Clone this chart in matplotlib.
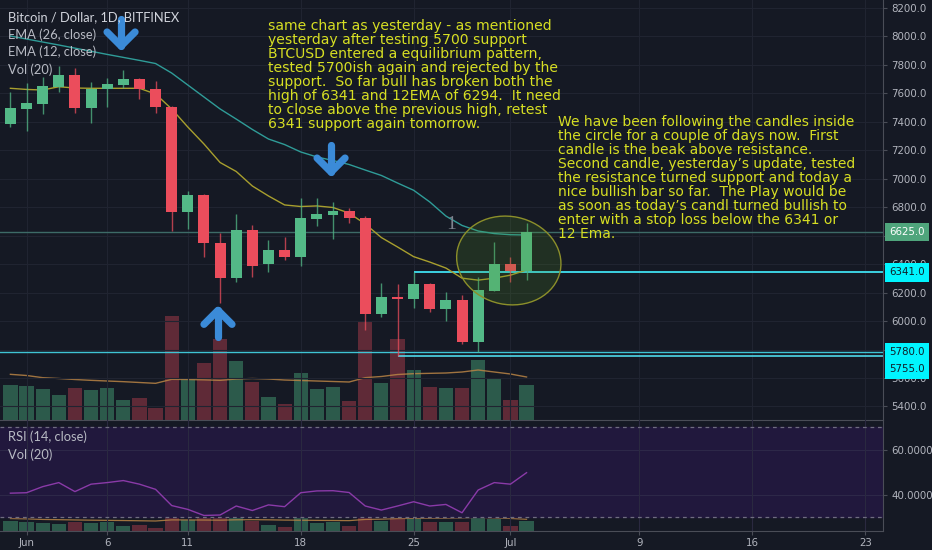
import matplotlib
matplotlib.use('Agg')
import matplotlib.pyplot as plt
import matplotlib.dates as mdates
import matplotlib.transforms as mtrans
from matplotlib.patches import Ellipse
from matplotlib.lines import Line2D
import numpy as np
import pandas as pd

# ---------------- data ----------------
dates = pd.date_range('2018-05-31', periods=33, freq='D')
opens = [7383, 7489, 7524, 7641, 7730, 7494, 7629, 7660, 7699, 7627,
         7501, 6763, 6885, 6550, 6304, 6639, 6398, 6499, 6452, 6718,
         6742, 6773, 6721, 6049, 6171, 6155, 6260, 6082, 6147, 5855,
         6211, 6400, 6353]
highs = [7610, 7673, 7711, 7791, 7774, 7680, 7704, 7763, 7704, 7687,
         7510, 6915, 6890, 6620, 6751, 6674, 6569, 6588, 6862, 6862,
         6834, 6792, 6735, 6269, 6260, 6341, 6265, 6201, 6183, 6311,
         6557, 6452, 6686]
lows = [7360, 7336, 7454, 7610, 7463, 7388, 7505, 7634, 7557, 7463,
        6634, 6644, 6452, 6124, 6276, 6311, 6346, 6428, 6386, 6667,
        6574, 6686, 5937, 6030, 5755, 6089, 6065, 6000, 5838, 5780,
        6211, 6276, 6288]
closes = [7494, 7533, 7650, 7730, 7494, 7629, 7664, 7701, 7627, 7501,
          6763, 6885, 6550, 6304, 6639, 6388, 6499, 6447, 6721, 6751,
          6773, 6721, 6047, 6166, 6157, 6260, 6082, 6147, 5855, 6218,
          6400, 6353, 6625]
volumes = [21000, 20200, 18600, 14800, 19000, 18000, 19000, 11800, 13000, 7400,
           62400, 24400, 34200, 48600, 35200, 22600, 14000, 9800, 28200, 18400,
           19600, 11400, 59400, 22200, 48800, 30000, 19600, 19000, 19000, 35800,
           25400, 11800, 21000]
vol_ma20 = [27400, 26700, 25400, 24900, 24300, 23800, 23400, 23000, 22500, 22000,
            24400, 24300, 24100, 23800, 24600, 24900, 24600, 24000, 23700, 23400,
            23100, 22800, 25400, 26100, 27300, 27800, 28000, 28200, 28800, 30000,
            28800, 27600, 25800]
ema26 = [8001, 7980, 7959, 7938, 7916, 7894, 7872, 7851, 7830, 7808,
         7741, 7657, 7573, 7489, 7418, 7345, 7278, 7239, 7187, 7152,
         7127, 7099, 7060, 7022, 6969, 6918, 6836, 6737, 6671, 6632,
         6614, 6606, 6604]
ema12 = [7634, 7626, 7622, 7645, 7636, 7634, 7634, 7634, 7634, 7594,
         7489, 7362, 7243, 7113, 7050, 6948, 6878, 6815, 6804, 6808,
         6797, 6758, 6681, 6586, 6520, 6452, 6414, 6372, 6301, 6287,
         6301, 6322, 6358]
rsi14 = [40.8, 41.0, 43.7, 45.5, 41.5, 44.8, 45.5, 46.4, 44.8, 42.5,
         35.3, 33.6, 30.9, 31.1, 35.1, 33.1, 35.6, 34.8, 41.0, 41.8,
         41.9, 41.1, 35.1, 33.3, 35.1, 37.0, 35.1, 35.8, 32.1, 42.2,
         45.5, 44.8, 49.9]

price_ticks = [5400, 5600, 5800, 6000, 6200, 6400, 6600, 6800, 7000,
               7200, 7400, 7600, 7800, 8000, 8200]
hidden_ticks = [5800, 6600]          # covered by the price-label boxes
rsi_ticks = [40, 60]
x_tick_dates = ['2018-06-01', '2018-06-06', '2018-06-11', '2018-06-18',
                '2018-06-25', '2018-07-01', '2018-07-09', '2018-07-16',
                '2018-07-23']
x_tick_labels = ['Jun', '6', '11', '18', '25', 'Jul', '9', '16', '23']

last_price = 6625
level_6341 = 6341
level_5780 = 5780
level_5755 = 5755

title_lines = ['Bitcoin / Dollar, 1D, BITFINEX', 'EMA (26, close)',
               'EMA (12, close)', 'Vol (20)']
rsi_lines = ['RSI (14, close)', 'Vol (20)']

note1 = ("same chart as yesterday - as mentioned\n"
         "yesterday after testing 5700 support\n"
         "BTCUSD entered a equilibrium pattern,\n"
         "tested 5700ish again and rejected by the\n"
         "support.  So far bull has broken both the\n"
         "high of 6341 and 12EMA of 6294.  It need\n"
         "to close above the previous high, retest\n"
         "6341 support again tomorrow.")
note2 = ("We have been following the candles inside\n"
         "the circle for a couple of days now.  First\n"
         "candle is the beak above resistance.\n"
         "Second candle, yesterday\u2019s update, tested\n"
         "the resistance turned support and today a\n"
         "nice bullish bar so far.  The Play would be\n"
         "as soon as today\u2019s candl turned bullish to\n"
         "enter with a stop loss below the 6341 or\n"
         "12 Ema.")

# ---------------- style ----------------
BG = '#151924'
GRID = '#202431'
UP = '#53b987'
DN = '#eb4d5c'
TXT = '#b2b5be'
W, H = 932, 550
DPI = 100

xs = mdates.date2num(dates.to_pydatetime())
x0 = xs[0]
o = np.array(opens); c = np.array(closes)
h = np.array(highs); l = np.array(lows)
up = c >= o
cols = [UP if u else DN for u in up]
vcols = ['#2c5a4b' if u else '#5f2a37' for u in up]

fig = plt.figure(figsize=(W / DPI, H / DPI), dpi=DPI, facecolor=BG)

def fx(px):
    return px / W

def fy(py):
    return 1 - py / H

PLOT_R = 883
ax_rect = [0, fy(420), fx(PLOT_R), 420 / H]
rsi_rect = [0, fy(531), fx(PLOT_R), 111 / H]

# volume axis (behind)
axv = fig.add_axes(ax_rect, facecolor=BG)
ax = fig.add_axes(ax_rect, sharex=axv)
ax.patch.set_alpha(0)
ax.set_zorder(2)
axv.set_zorder(1)

xlim = (x0 - 0.645, x0 + 54.1)
axv.set_xlim(*xlim)
axv.set_ylim(0, 252000)
axv.set_yticks([])
for s in axv.spines.values():
    s.set_visible(False)
axv.tick_params(axis='x', length=0, labelbottom=False)
axv.bar(xs, volumes, width=0.88, color=vcols, linewidth=0)
axv.plot(xs, vol_ma20, color='#b98445', lw=1.0, alpha=0.85)

# main price axis
ax.set_ylim(5305, 8254)
ax.set_xlim(*xlim)
for y in price_ticks:
    ax.axhline(y, color=GRID, lw=0.8, zorder=0)
for d in x_tick_dates:
    ax.axvline(mdates.date2num(pd.Timestamp(d)), color=GRID, lw=0.8, zorder=0)

ax.axhline(last_price, color='#3d6b67', lw=1.0, zorder=1)
ax.axhline(level_5780, color='#3fc4d4', lw=1.0, zorder=1)
ax.hlines(level_5755, xs[24], xlim[1], color='#4fd8ea', lw=1.2, zorder=1)
ax.hlines(level_6341, xs[25], xlim[1], color='#40e0f0', lw=1.3, zorder=1)

ax.plot(xs, ema26, color='#2f9c98', lw=1.0, zorder=2)
ax.plot(xs, ema12, color='#a89f2e', lw=1.0, zorder=2)

ax.vlines(xs, l, h, color=cols, lw=1.0, alpha=0.75, zorder=3)
ax.bar(xs, np.maximum(np.abs(c - o), 6), bottom=np.minimum(o, c), width=0.68,
       color=cols, linewidth=0, zorder=4)

# ellipse around last candles
ell_tr = fig.dpi_scale_trans + mtrans.ScaledTranslation(x0 + 30.9, 6425, ax.transData)
ax.add_patch(Ellipse((0, 0), 1.05, 0.88, angle=-12, transform=ell_tr,
                     facecolor=(0.35, 0.6, 0.12, 0.18), edgecolor='#8c8f2a',
                     lw=1.0, zorder=5))

# marker "1"
ax.text(x0 + 27.3, 6681, '1', color='#7d838e', fontsize=14,
        family='Liberation Serif', ha='center', va='center', zorder=5)

# blue arrows
def arrow(xd, yd, direction):
    tr = fig.dpi_scale_trans + mtrans.ScaledTranslation(xd, yd, ax.transData)
    s = 1 if direction == 'down' else -1
    kw = dict(color='#3b8bd8', lw=5.2, solid_capstyle='round',
              solid_joinstyle='round', transform=tr, zorder=6)
    ax.add_line(Line2D([0, 0], [0, s * 0.27], **kw))
    ax.add_line(Line2D([-0.14, 0, 0.14], [s * 0.14, 0, s * 0.14], **kw))

arrow(x0 + 6.86, 7931, 'down')
arrow(x0 + 19.88, 7046, 'down')
arrow(x0 + 12.87, 6075, 'up')

# axes styling
for k, s in ax.spines.items():
    s.set_visible(k in ('right', 'bottom'))
    s.set_color('#4a4d57')
ax.yaxis.tick_right()
ax.set_yticks(price_ticks)
ax.set_yticklabels(['' if v in hidden_ticks else f'{v:.1f}' for v in price_ticks])
ax.tick_params(axis='y', colors='#4a4d57', labelcolor=TXT, labelsize=7.4,
               length=3, pad=3)
ax.tick_params(axis='x', length=0, labelbottom=False)

# right labels
ylab_tr = mtrans.blended_transform_factory(ax.transAxes, ax.transData)
def plabel(val, fc, tc, anchor=None, dy=0):
    ax.annotate(f'{val:.1f}', xy=(1.0, val if anchor is None else anchor),
                xycoords=ylab_tr, xytext=(4.5, dy), textcoords='offset points',
                ha='left', va='center', fontsize=7.4, color=tc,
                bbox=dict(boxstyle='square,pad=0.42', fc=fc, ec='none'),
                annotation_clip=False, zorder=20)

plabel(last_price, '#4fa57c', '#ffffff')
plabel(level_6341, '#00f5ff', '#10202a')
plabel(level_5780, '#00f5ff', '#10202a')
plabel(level_5755, '#00f5ff', '#10202a', anchor=level_5780, dy=-12.3)

# ---------------- RSI pane ----------------
axrv = fig.add_axes(rsi_rect, facecolor=BG, sharex=axv)
axr = fig.add_axes(rsi_rect, sharex=axv)
axr.patch.set_alpha(0)
axr.set_zorder(2)
axrv.set_zorder(1)
axrv.set_ylim(0, 244000)
axrv.set_yticks([])
for s in axrv.spines.values():
    s.set_visible(False)
axrv.tick_params(axis='x', length=0, labelbottom=False)

axr.set_ylim(24, 73.3)
axr.axhspan(30, 70, color='#21183d', zorder=0)
for y in rsi_ticks:
    axr.axhline(y, color='#2d2848', lw=0.8, zorder=0.5)
for d in x_tick_dates:
    axr.axvline(mdates.date2num(pd.Timestamp(d)), color='#2a2940', lw=0.8, zorder=0.5)
axr.axhline(70, color='#6f6d80', lw=0.9, ls=(0, (3, 3)), zorder=1)
axr.axhline(30, color='#6f6d80', lw=0.9, ls=(0, (3, 3)), zorder=1)

axrv.bar(xs, volumes, width=0.88, color=vcols, linewidth=0)
axrv.plot(xs, vol_ma20, color='#b98445', lw=0.9, alpha=0.85)
axr.plot(xs, rsi14, color='#8a3aa8', lw=1.0, zorder=3)

for k, s in axr.spines.items():
    s.set_visible(k in ('right', 'bottom'))
    s.set_color('#4a4d57')
axr.yaxis.tick_right()
axr.set_yticks(rsi_ticks)
axr.set_yticklabels([f'{v:.4f}' for v in rsi_ticks])
axr.tick_params(axis='y', colors='#4a4d57', labelcolor=TXT, labelsize=7.4,
                length=3, pad=3)
axr.set_xticks([mdates.date2num(pd.Timestamp(d)) for d in x_tick_dates])
axr.set_xticklabels(x_tick_labels)
axr.tick_params(axis='x', colors='#4a4d57', labelcolor=TXT, labelsize=7.4,
                length=3, pad=2)
axr.set_xlim(*xlim)

# ---------------- texts ----------------
legend_y = [17, 34.5, 52, 69.5]
for i, (t, yy) in enumerate(zip(title_lines, legend_y)):
    fig.text(fx(8), fy(yy), t, color='#d1d4dc' if i == 0 else '#b8bbc4',
             fontsize=9.3, family='Lato', va='center', ha='left', zorder=30)
for t, yy in zip(rsi_lines, [437, 455]):
    fig.text(fx(8), fy(yy), t, color='#b8bbc4', fontsize=9.3, family='Lato',
             va='center', ha='left', zorder=30)

fig.text(fx(268), fy(19), note1, color='#d7df23', fontsize=10.1,
         family='DejaVu Sans', va='top', ha='left', linespacing=1.0, zorder=30)
fig.text(fx(558), fy(115), note2, color='#d7df23', fontsize=10.0,
         family='DejaVu Sans', va='top', ha='left', linespacing=1.0, zorder=30)

fig.savefig('out.png', dpi=DPI, facecolor=BG)
